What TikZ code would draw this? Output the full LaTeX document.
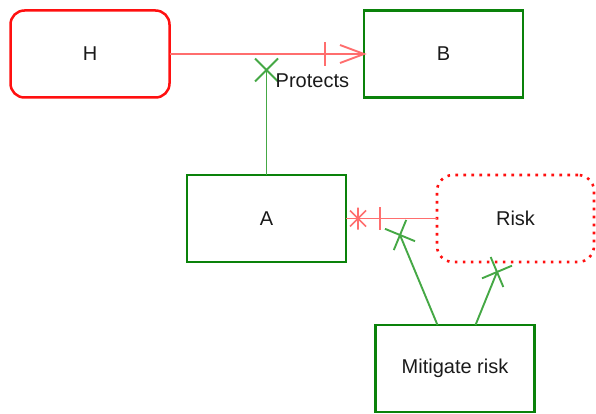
\documentclass[tikz,border=0pt]{standalone}
\usepackage{fontspec}
\setmainfont{Liberation Sans}
\usetikzlibrary{calc,decorations.markings}
\definecolor{boxgreen}{HTML}{0A820A}
\definecolor{boxred}{HTML}{FF1010}
\definecolor{lnred}{HTML}{FF6E6E}
\definecolor{lngreen}{HTML}{45A845}
\definecolor{txt}{HTML}{1A1A1A}
\tikzset{
  gbox/.style={draw=boxgreen, line width=2.5pt, minimum width=159pt, minimum height=87pt, inner sep=0pt, outer sep=0pt, text=txt},
  rbox/.style={draw=boxred, line width=2.5pt, rounded corners=14pt, minimum width=159pt, minimum height=87pt, inner sep=0pt, outer sep=0pt, text=txt},
  dbox/.style={draw=boxred, line width=2.6pt, dash pattern=on 2.6pt off 5.4pt, rounded corners=16pt, minimum width=157pt, minimum height=87pt, inner sep=0pt, outer sep=0pt, text=txt},
  rline/.style={draw=lnred, line width=1.9pt},
  gline/.style={draw=lngreen, line width=1.9pt},
  xend/.style={postaction={decorate}, decoration={markings, mark=at position 1 with {\draw[gline] (-11.5pt,-11.5pt)--(11.5pt,11.5pt) (-11.5pt,11.5pt)--(11.5pt,-11.5pt);}}},
  hbend/.style={postaction={decorate}, decoration={markings,
      mark=at position -39pt with {\draw[rline] (0pt,-12pt)--(0pt,12pt);},
      mark=at position 1 with {\draw[rline] (-24pt,-9pt)--(0pt,0pt)--(-24pt,9pt);}}},
  starend/.style={postaction={decorate}, decoration={markings,
      mark=at position -34pt with {\draw[rline] (0pt,-11.5pt)--(0pt,11.5pt);},
      mark=at position -12pt with {\draw[draw=lnred, line width=1.6pt] (0pt,-11pt)--(0pt,11pt) (-8pt,-8pt)--(8pt,8pt) (-8pt,8pt)--(8pt,-8pt);}}}
}
\begin{document}
\begin{tikzpicture}[x=1pt, y=-1pt, font=\fontsize{20}{24}\selectfont]
\useasboundingbox (0,0) rectangle (596,414);
\node[rbox] (H) at (90,54) {H};
\node[gbox] (B) at (443.5,54) {B};
\node[gbox] (A) at (266.5,218.5) {A};
\node[dbox] (R) at (515.5,218.5) {Risk};
\node[gbox] (M) at (455,368.5) {Mitigate risk};
\draw[rline, hbend] (H.east) -- (B.west);
\coordinate (p) at ($(A.north)+(0,-105)$);
\draw[gline, xend] (A.north) -- (p);
\node[anchor=west, inner sep=0pt, text=txt] (lbl) at ($(p)+(9,11)$) {Protects};
\draw[rline, starend] (R.west) -- (A.east);
\coordinate (m1) at ($(M.north west)+(62,0)$);
\coordinate (q1) at (400,235);
\coordinate (m2) at ($(M.north west)+(100,0)$);
\coordinate (q2) at (497,272);
\draw[gline, xend] (m1) -- (q1);
\draw[gline, xend] (m2) -- (q2);
\end{tikzpicture}
\end{document}
